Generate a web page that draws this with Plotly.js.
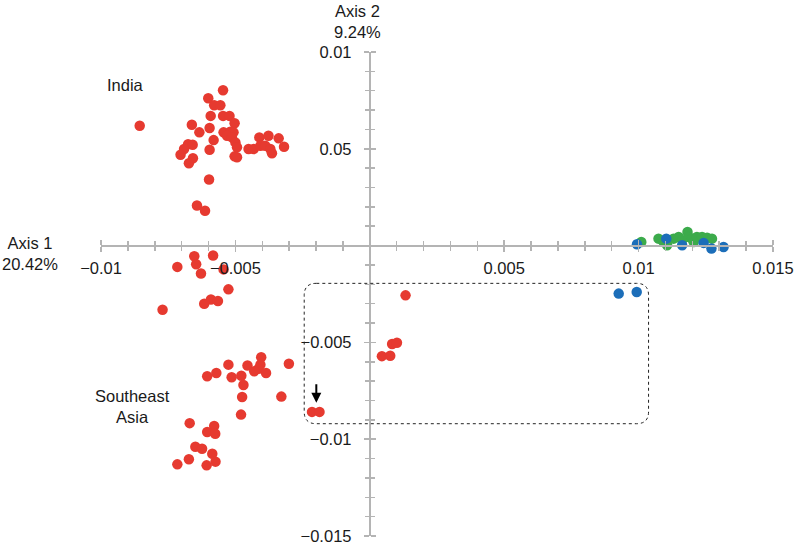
<!DOCTYPE html>
<html>
<head>
<meta charset="utf-8">
<script src="https://cdn.plot.ly/plotly-3.0.1.min.js"></script>
<style>
  html, body { margin: 0; padding: 0; background: #fff; }
  #chart { width: 795px; height: 545px; }
</style>
</head>
<body>
<div id="chart"></div>
<script>
// PCA scores (Axis 1 / Axis 2)
const indiaX = [-0.00856, -0.00546, -0.00601, -0.00579, -0.00556, -0.00592, -0.00546, -0.00522,
  -0.00503, -0.00662, -0.00596, -0.00634, -0.00544, -0.00519, -0.00507, -0.00531, -0.00513,
  -0.00581, -0.00676, -0.00659, -0.00691, -0.00500, -0.00494, -0.00411, -0.00377, -0.00339,
  -0.00319, -0.00451, -0.00432, -0.00407, -0.00389, -0.00364, -0.00370, -0.00596, -0.00704,
  -0.00503, -0.00494, -0.00658, -0.00673, -0.00598, -0.00643, -0.00613];
const indiaY = [0.00619, 0.00802, 0.00761, 0.00725, 0.00725, 0.00670, 0.00670, 0.00670,
  0.00632, 0.00624, 0.00607, 0.00585, 0.00585, 0.00588, 0.00585, 0.00567, 0.00559,
  0.00545, 0.00524, 0.00521, 0.00499, 0.00533, 0.00508, 0.00559, 0.00567, 0.00554,
  0.00511, 0.00499, 0.00499, 0.00516, 0.00516, 0.00477, 0.00499, 0.00495, 0.00469,
  0.00461, 0.00456, 0.00451, 0.00425, 0.00341, 0.00207, 0.00180];

const seAsiaX = [-0.00653, -0.00583, -0.00646, -0.00716, -0.00544, -0.00628, -0.00526, -0.00591,
  -0.00565, -0.00616, -0.00771, -0.00404, -0.00526, -0.00455, -0.00407, -0.00414, -0.00430,
  -0.00386, -0.00301, -0.00571, -0.00605, -0.00478, -0.00514, -0.00470, -0.00475, -0.00329,
  -0.00479, -0.00670, -0.00579, -0.00605, -0.00575, -0.00649, -0.00624, -0.00586, -0.00673,
  -0.00716, -0.00607, -0.00574,
  // boxed samples
  -0.00215, -0.00187, 0.00133, 0.00083, 0.00101, 0.00045, 0.00076];
const seAsiaY = [-0.00055, -0.00051, -0.00096, -0.00110, -0.00123, -0.00144, -0.00226, -0.00278,
  -0.00286, -0.00300, -0.00331, -0.00577, -0.00615, -0.00619, -0.00615, -0.00636, -0.00649,
  -0.00658, -0.00610, -0.00658, -0.00675, -0.00672, -0.00680, -0.00720, -0.00782, -0.00780,
  -0.00873, -0.00917, -0.00932, -0.00963, -0.00972, -0.01039, -0.01049, -0.01075, -0.01104,
  -0.01130, -0.01135, -0.01116,
  -0.00859, -0.00859, -0.00257, -0.00508, -0.00502, -0.00571, -0.00569];

const greenX = [0.01010, 0.01074, 0.01093, 0.01106, 0.01130, 0.01149, 0.01162, 0.01182,
  0.01186, 0.01199, 0.01205, 0.01217, 0.01236, 0.01255, 0.01273];
const greenY = [0.00019, 0.00036, 0.00019, 0.00002, 0.00036, 0.00045, 0.00027, 0.00070,
  0.00045, 0.00036, 0.00019, 0.00045, 0.00045, 0.00041, 0.00036];

const blueX = [0.00994, 0.01103, 0.01162, 0.01242, 0.01271, 0.01316, 0.00926, 0.00993];
const blueY = [0.00007, 0.00036, 0.00002, 0.00014, -0.00015, -0.00007, -0.00248, -0.00240];

const xTicks = [-0.01, -0.005, 0.005, 0.01, 0.015];
const xTickText = ['\u22120.01', '\u22120.005', '0.005', '0.01', '0.015'];
const yTicks = [0.01, 0.005, -0.005, -0.01, -0.015];
const yTickText = ['0.01', '0.05', '\u22120.005', '\u22120.01', '\u22120.015'];

const xRange = [-0.01, 0.015];
const yRange = [-0.015, 0.01];

const AXIS_GREY = '#b4b4b4';
const FONT = 'Liberation Sans, Arial, Helvetica, sans-serif';
const FONT_SIZE = 16.5;

const dot = (color) => ({ size: 10.5, color: color, line: { width: 0 } });

const traces = [
  { x: indiaX, y: indiaY, mode: 'markers', marker: dot('#e63a30'), hoverinfo: 'x+y', name: 'India' },
  { x: seAsiaX, y: seAsiaY, mode: 'markers', marker: dot('#e63a30'), hoverinfo: 'x+y', name: 'Southeast Asia' },
  { x: greenX, y: greenY, mode: 'markers', marker: dot('#3cab4b'), hoverinfo: 'x+y', name: 'green' },
  { x: blueX, y: blueY, mode: 'markers', marker: dot('#1c6eb9'), hoverinfo: 'x+y', name: 'blue' },
  // empty trace so the second pair of axes (other half of the crossing ticks) is drawn
  { x: [], y: [], xaxis: 'x2', yaxis: 'y2', mode: 'markers', showlegend: false, hoverinfo: 'skip' }
];

// axes cross at the origin
const xPos = (0 - yRange[0]) / (yRange[1] - yRange[0]);
const yPos = (0 - xRange[0]) / (xRange[1] - xRange[0]);

const minorTicks = { tickmode: 'linear', tick0: 0, dtick: 0.001, ticks: 'outside', ticklen: 4, tickwidth: 1.5, tickcolor: AXIS_GREY };

const baseAxis = {
  showgrid: false,
  zeroline: false,
  showline: true,
  linecolor: AXIS_GREY,
  linewidth: 2,
  ticks: 'outside',
  ticklen: 5,
  tickwidth: 1.5,
  tickcolor: AXIS_GREY,
  anchor: 'free',
  ticklabeloverflow: 'allow',
  tickfont: { family: FONT, size: FONT_SIZE, color: '#1a1a1a' },
  minor: minorTicks,
  fixedrange: true
};

// rounded dashed box, path in data units
function roundedBox(x0, x1, y0, y1, rx, ry) {
  return `M ${x0 + rx},${y1} L ${x1 - rx},${y1} Q ${x1},${y1} ${x1},${y1 - ry} ` +
    `L ${x1},${y0 + ry} Q ${x1},${y0} ${x1 - rx},${y0} L ${x0 + rx},${y0} ` +
    `Q ${x0},${y0} ${x0},${y0 + ry} L ${x0},${y1 - ry} Q ${x0},${y1} ${x0 + rx},${y1} Z`;
}

const textAnn = (x, y, text) => ({
  xref: 'paper', yref: 'paper', x: x, y: y, text: text, showarrow: false,
  xanchor: 'center', yanchor: 'middle', align: 'center',
  font: { family: FONT, size: FONT_SIZE, color: '#1a1a1a' }
});

const layout = {
  width: 795,
  height: 545,
  margin: { l: 101, r: 22, t: 52, b: 9 },
  paper_bgcolor: '#ffffff',
  plot_bgcolor: '#ffffff',
  showlegend: false,
  xaxis: Object.assign({}, baseAxis, {
    range: xRange, position: xPos, side: 'bottom',
    tickmode: 'array', tickvals: xTicks, ticktext: xTickText, ticklabelstandoff: 3
  }),
  yaxis: Object.assign({}, baseAxis, {
    range: yRange, position: yPos, side: 'left',
    tickmode: 'array', tickvals: yTicks, ticktext: yTickText, ticklabelstandoff: 9
  }),
  xaxis2: Object.assign({}, baseAxis, {
    range: xRange, position: xPos, side: 'top', overlaying: 'x',
    tickmode: 'array', tickvals: xTicks, showticklabels: false
  }),
  yaxis2: Object.assign({}, baseAxis, {
    range: yRange, position: yPos, side: 'right', overlaying: 'y',
    tickmode: 'array', tickvals: yTicks, showticklabels: false
  }),
  shapes: [{
    type: 'path', xref: 'x', yref: 'y',
    path: roundedBox(-0.00244, 0.01037, -0.0092, -0.00195, 0.00045, 0.00062),
    line: { color: '#222', width: 1, dash: 'dot' }
  }],
  annotations: [
    textAnn(-0.106, 0.583, 'Axis 1<br>20.42%'),
    textAnn(0.381, 1.064, 'Axis 2<br>9.24%'),
    textAnn(0.036, 0.932, 'India'),
    textAnn(0.047, 0.267, 'Southeast<br>Asia'),
    {
      xref: 'x', yref: 'y', x: -0.00199, y: -0.00812, ax: 0, ay: -20,
      axref: 'pixel', ayref: 'pixel', text: '', showarrow: true,
      arrowhead: 2, arrowsize: 1, arrowwidth: 2, arrowcolor: '#000'
    }
  ]
};

Plotly.newPlot('chart', traces, layout, { displayModeBar: false, staticPlot: true });
</script>
</body>
</html>
